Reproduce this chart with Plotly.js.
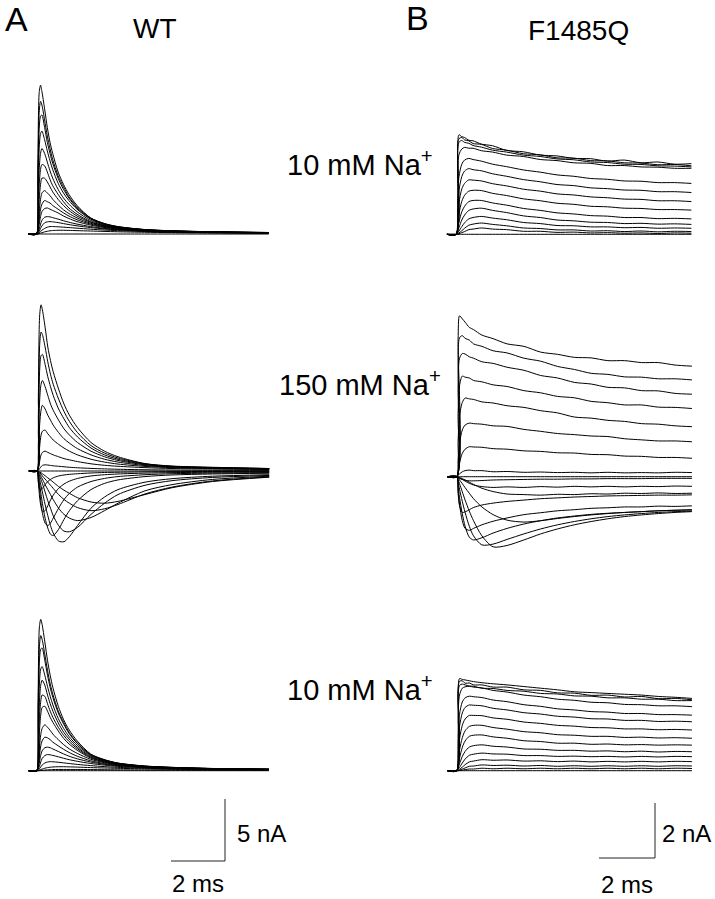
<!DOCTYPE html>
<html><head><meta charset="utf-8">
<script src="https://cdn.plot.ly/plotly-3.0.1.min.js"></script>
<style>html,body{margin:0;padding:0;background:#fff}#chart{width:715px;height:899px}</style>
</head><body><div id="chart"></div>
<script>
// ---------- time bases (ms after voltage step) ----------
const tA = [-0.3, 0, 0.05, 0.1, 0.15, 0.2, 0.3, 0.4, 0.5, 0.6, 0.8, 1.0, 1.2, 1.5, 2.0, 2.5, 3.0, 4.0, 5.0, 6.5, 8.6];
const tB = [-0.33, 0, 0.05, 0.1, 0.2, 0.3, 0.45, 0.6, 0.9, 1.3, 1.8, 2.4, 3.0, 3.6, 4.2, 4.8, 5.4, 6.0, 6.6, 7.2, 7.8, 8.4];

// ---------- WT, 10 mM Na+ (before), currents in nA ----------
const wt10Before = [
 [0,0,5.4,11.4,12.0,11.5,10.1,8.6,7.4,6.5,5.0,4.0,3.2,2.3,1.3,0.85,0.6,0.36,0.26,0.18,0.12],
 [0,0,4.3,9.8,10.7,10.4,9.2,7.9,6.9,6.0,4.7,3.8,3.0,2.2,1.3,0.85,0.6,0.36,0.26,0.18,0.12],
 [0,0,3.5,8.5,9.5,9.6,8.6,7.4,6.5,5.7,4.5,3.6,2.9,2.1,1.25,0.82,0.58,0.35,0.25,0.17,0.12],
 [0,0,2.6,6.9,8.1,8.3,7.6,6.7,5.9,5.2,4.1,3.3,2.7,2.0,1.2,0.8,0.56,0.34,0.24,0.17,0.11],
 [0,0,1.8,5.2,6.5,6.9,6.5,5.8,5.1,4.5,3.6,2.9,2.4,1.8,1.1,0.75,0.53,0.33,0.24,0.16,0.11],
 [0,0,1.2,3.9,5.2,5.6,5.5,5.0,4.4,3.9,3.2,2.6,2.1,1.6,1.0,0.7,0.5,0.32,0.23,0.16,0.11],
 [0,0,0.8,2.8,4.0,4.5,4.5,4.2,3.8,3.4,2.8,2.3,1.9,1.45,0.95,0.66,0.48,0.31,0.22,0.15,0.1],
 [0,0,0.5,1.8,2.8,3.3,3.5,3.3,3.1,2.8,2.35,1.95,1.65,1.3,0.87,0.62,0.46,0.3,0.21,0.15,0.1],
 [0,0,0.3,1.2,2.0,2.4,2.7,2.6,2.5,2.3,2.0,1.7,1.45,1.15,0.8,0.58,0.43,0.28,0.2,0.14,0.1],
 [0,0,0.2,0.8,1.4,1.8,2.05,2.1,2.0,1.9,1.7,1.45,1.25,1.0,0.72,0.53,0.4,0.27,0.19,0.14,0.09],
 [0,0,0.1,0.4,0.8,1.1,1.35,1.4,1.38,1.32,1.2,1.07,0.95,0.8,0.6,0.46,0.36,0.25,0.18,0.13,0.09],
 [0,0,0.05,0.2,0.45,0.65,0.9,0.98,1.0,0.98,0.92,0.84,0.76,0.66,0.52,0.41,0.33,0.23,0.17,0.12,0.08],
 [0,0,0,0.1,0.2,0.3,0.45,0.55,0.6,0.6,0.58,0.55,0.52,0.47,0.39,0.32,0.27,0.2,0.15,0.11,0.07],
 [0,0,0,0.03,0.07,0.1,0.17,0.22,0.26,0.28,0.3,0.3,0.29,0.27,0.24,0.21,0.18,0.14,0.11,0.08,0.06],
 [0,0,0,0,0,0,0,0,0,0,0,0,0,0,0,0,0,0,0,0,0]
];

// ---------- WT, 150 mM Na+ ----------
const wt150 = [
 [0,0,6.0,12.6,13.4,13.0,11.6,10.0,8.9,8.0,6.6,5.4,4.5,3.5,2.3,1.6,1.15,0.6,0.4,0.3,0.2],
 [0,0,4.5,10.2,11.2,11.0,10.0,8.8,7.8,7.0,5.8,4.8,4.0,3.1,2.05,1.45,1.05,0.58,0.38,0.28,0.2],
 [0,0,3.4,8.2,9.3,9.4,8.6,7.6,6.8,6.1,5.0,4.2,3.5,2.75,1.85,1.3,0.95,0.54,0.36,0.27,0.19],
 [0,0,2.2,5.8,7.0,7.3,6.8,6.1,5.4,4.9,4.1,3.4,2.9,2.3,1.6,1.15,0.85,0.5,0.34,0.25,0.18],
 [0,0,1.3,3.8,4.9,5.3,5.0,4.5,4.1,3.7,3.1,2.6,2.25,1.8,1.3,0.95,0.72,0.44,0.31,0.23,0.17],
 [0,0,0.6,2.0,2.9,3.2,3.3,3.0,2.75,2.5,2.15,1.85,1.6,1.3,0.95,0.72,0.56,0.37,0.27,0.2,0.15],
 [0,0,0.2,0.8,1.3,1.5,1.6,1.5,1.4,1.3,1.15,1.0,0.9,0.76,0.58,0.46,0.38,0.27,0.2,0.16,0.12],
 [0,0,0.05,0.2,0.35,0.45,0.5,0.48,0.45,0.42,0.38,0.34,0.3,0.26,0.21,0.17,0.14,0.1,0.08,0.06,0.05],
 [0,0,0,0,0,0,0,0,0,0,0,0,0,0,0,0,0,0,0,0,0],
 [0,0,-0.9,-1.45,-1.5,-1.4,-1.1,-0.85,-0.68,-0.55,-0.4,-0.32,-0.27,-0.22,-0.16,-0.12,-0.1,-0.07,-0.05,-0.04,-0.03],
 [0,0,-0.9,-2.2,-2.9,-3.25,-3.2,-2.8,-2.35,-1.95,-1.4,-1.05,-0.82,-0.6,-0.4,-0.3,-0.24,-0.17,-0.13,-0.1,-0.08],
 [0,0,-0.6,-1.6,-2.6,-3.4,-4.2,-4.4,-4.2,-3.8,-3.0,-2.3,-1.8,-1.3,-0.85,-0.6,-0.45,-0.3,-0.22,-0.17,-0.13],
 [0,0,-0.4,-1.1,-1.9,-2.6,-3.8,-4.6,-5.1,-5.2,-4.7,-3.9,-3.2,-2.4,-1.5,-1.0,-0.72,-0.45,-0.32,-0.24,-0.18],
 [0,0,-0.25,-0.7,-1.2,-1.7,-2.7,-3.6,-4.4,-5.0,-5.65,-5.7,-5.3,-4.4,-3.0,-2.1,-1.5,-0.9,-0.62,-0.42,-0.3],
 [0,0,-0.15,-0.4,-0.7,-1.0,-1.7,-2.4,-3.0,-3.6,-4.4,-4.85,-4.9,-4.55,-3.5,-2.6,-1.9,-1.15,-0.78,-0.52,-0.36],
 [0,0,-0.1,-0.25,-0.45,-0.65,-1.1,-1.5,-1.9,-2.3,-3.0,-3.5,-3.8,-4.0,-3.75,-3.2,-2.6,-1.6,-1.1,-0.68,-0.42],
 [0,0,-0.05,-0.15,-0.25,-0.4,-0.65,-0.9,-1.15,-1.4,-1.9,-2.3,-2.6,-2.95,-3.2,-3.05,-2.7,-1.85,-1.3,-0.8,-0.47],
 [0,0,-0.03,-0.08,-0.15,-0.22,-0.38,-0.55,-0.72,-0.9,-1.25,-1.55,-1.8,-2.15,-2.5,-2.6,-2.45,-1.9,-1.35,-0.85,-0.5]
];

// ---------- WT, 10 mM Na+ (after) ----------
const wt10After = [
 [0,0,5.5,11.6,12.2,11.8,10.4,8.9,7.7,6.7,5.2,4.1,3.3,2.4,1.35,0.9,0.62,0.38,0.27,0.18,0.12],
 [0,0,4.4,10.0,10.9,10.6,9.4,8.1,7.0,6.15,4.8,3.9,3.1,2.25,1.3,0.88,0.61,0.37,0.27,0.18,0.12],
 [0,0,3.6,8.8,9.8,9.9,8.9,7.7,6.7,5.9,4.65,3.75,3.0,2.2,1.28,0.86,0.6,0.36,0.26,0.17,0.12],
 [0,0,2.6,7.0,8.2,8.4,7.7,6.8,6.0,5.3,4.2,3.4,2.75,2.05,1.22,0.82,0.58,0.35,0.25,0.17,0.11],
 [0,0,1.9,5.5,6.9,7.3,6.9,6.1,5.4,4.8,3.85,3.1,2.55,1.9,1.15,0.78,0.55,0.34,0.24,0.16,0.11],
 [0,0,1.3,4.2,5.6,6.1,6.0,5.4,4.8,4.3,3.5,2.85,2.35,1.78,1.08,0.74,0.53,0.33,0.24,0.16,0.11],
 [0,0,0.9,3.1,4.5,5.1,5.2,4.8,4.3,3.9,3.2,2.6,2.15,1.65,1.02,0.7,0.5,0.32,0.23,0.15,0.1],
 [0,0,0.5,1.9,2.9,3.4,3.7,3.5,3.25,2.95,2.5,2.1,1.77,1.4,0.92,0.65,0.47,0.3,0.21,0.15,0.1],
 [0,0,0.3,1.2,2.0,2.4,2.7,2.65,2.5,2.3,2.0,1.72,1.47,1.17,0.8,0.58,0.43,0.28,0.2,0.14,0.1],
 [0,0,0.15,0.7,1.25,1.6,1.85,1.9,1.85,1.75,1.55,1.35,1.17,0.96,0.7,0.52,0.4,0.27,0.19,0.13,0.09],
 [0,0,0.1,0.35,0.7,0.98,1.22,1.3,1.28,1.23,1.12,1.0,0.89,0.76,0.58,0.45,0.35,0.24,0.18,0.13,0.09],
 [0,0,0.03,0.15,0.3,0.45,0.62,0.7,0.73,0.72,0.68,0.63,0.58,0.51,0.41,0.33,0.27,0.2,0.15,0.11,0.07],
 [0,0,0,0.04,0.09,0.13,0.2,0.25,0.28,0.3,0.32,0.32,0.31,0.29,0.25,0.22,0.19,0.15,0.11,0.08,0.06],
 [0,0,0,0.01,0.02,0.03,0.05,0.07,0.08,0.09,0.1,0.1,0.1,0.1,0.09,0.08,0.07,0.06,0.05,0.04,0.03],
 [0,0,0,0,0,0,0,0,0,0,0,0,0,0,0,0,0,0,0,0,0]
];

// ---------- F1485Q, 10 mM Na+ (before) ----------
const mut10Before = [
 [0,0,3.3,3.62,3.55,3.52,3.42,3.4,3.28,3.22,3.05,3.0,2.88,2.85,2.76,2.75,2.66,2.7,2.6,2.63,2.55,2.57],
 [0,0,3.1,3.48,3.52,3.43,3.4,3.3,3.27,3.12,3.06,2.93,2.89,2.78,2.77,2.68,2.67,2.6,2.59,2.53,2.54,2.49],
 [0,0,2.8,3.35,3.41,3.34,3.31,3.23,3.17,3.06,2.99,2.88,2.83,2.74,2.71,2.63,2.61,2.55,2.54,2.49,2.48,2.45],
 [0,0,2.2,2.9,3.1,3.16,3.13,3.13,3.04,2.99,2.88,2.83,2.72,2.68,2.6,2.58,2.5,2.5,2.45,2.44,2.4,2.4],
 [0,0,1.3,2.1,2.55,2.7,2.76,2.72,2.66,2.55,2.46,2.34,2.26,2.16,2.11,2.03,2.0,1.94,1.93,1.88,1.88,1.85],
 [0,0,0.9,1.6,2.1,2.3,2.39,2.35,2.31,2.2,2.11,1.99,1.91,1.81,1.77,1.69,1.66,1.61,1.6,1.55,1.55,1.52],
 [0,0,0.6,1.15,1.65,1.85,1.98,1.97,1.94,1.84,1.76,1.64,1.57,1.47,1.43,1.36,1.33,1.28,1.27,1.22,1.22,1.19],
 [0,0,0.35,0.75,1.2,1.42,1.57,1.6,1.59,1.49,1.41,1.29,1.22,1.13,1.09,1.02,1.0,0.95,0.94,0.9,0.9,0.88],
 [0,0,0.2,0.45,0.82,1.02,1.19,1.23,1.23,1.14,1.06,0.94,0.87,0.78,0.74,0.68,0.66,0.61,0.61,0.57,0.58,0.56],
 [0,0,0.1,0.25,0.52,0.7,0.87,0.92,0.95,0.87,0.79,0.67,0.61,0.52,0.49,0.44,0.43,0.39,0.4,0.37,0.38,0.36],
 [0,0,0.05,0.12,0.28,0.42,0.56,0.61,0.65,0.59,0.53,0.43,0.39,0.32,0.31,0.27,0.27,0.24,0.25,0.22,0.23,0.22],
 [0,0,0.02,0.05,0.13,0.22,0.33,0.37,0.41,0.36,0.31,0.23,0.21,0.16,0.16,0.12,0.13,0.1,0.12,0.09,0.11,0.1],
 [0,0,0,0.02,0.06,0.1,0.17,0.19,0.23,0.19,0.17,0.11,0.11,0.07,0.08,0.05,0.06,0.04,0.05,0.03,0.05,0.04],
 [0,0,0,0,0,0,0,0,0,0,0,0,0,0,0,0,0,0,0,0,0,0]
];

// ---------- F1485Q, 150 mM Na+ ----------
const mut150 = [
 [0,0,5.0,5.85,5.74,5.62,5.43,5.35,5.15,5.02,4.83,4.74,4.53,4.45,4.34,4.32,4.22,4.22,4.15,4.15,4.06,4.02],
 [0,0,4.2,5.05,5.13,5.03,4.97,4.83,4.74,4.58,4.5,4.31,4.2,4.01,3.9,3.76,3.72,3.63,3.62,3.56,3.56,3.52],
 [0,0,3.3,4.3,4.48,4.46,4.36,4.31,4.18,4.12,3.98,3.87,3.68,3.59,3.43,3.37,3.25,3.23,3.13,3.12,3.03,3.0],
 [0,0,2.3,3.3,3.66,3.62,3.59,3.5,3.45,3.34,3.28,3.13,3.05,2.92,2.87,2.74,2.69,2.61,2.61,2.53,2.52,2.48],
 [0,0,1.3,2.2,2.7,2.86,2.83,2.81,2.72,2.68,2.58,2.52,2.4,2.32,2.17,2.13,2.05,2.01,1.93,1.91,1.85,1.82],
 [0,0,0.6,1.2,1.7,1.88,1.95,1.93,1.91,1.85,1.83,1.72,1.65,1.57,1.53,1.48,1.46,1.38,1.34,1.3,1.3,1.27],
 [0,0,0.2,0.5,0.85,1.0,1.09,1.08,1.07,1.02,1.0,0.94,0.92,0.87,0.86,0.81,0.8,0.75,0.74,0.7,0.7,0.67],
 [0,0,0.05,0.1,0.18,0.22,0.24,0.22,0.22,0.18,0.19,0.16,0.17,0.15,0.16,0.14,0.16,0.14,0.15,0.14,0.16,0.15],
 [0,0,0,0,0,0,0,0,0,0,0,0,0,0,0,0,0,0,0,0,0,0],
 [0,0,-0.03,-0.06,-0.1,-0.13,-0.15,-0.15,-0.14,-0.12,-0.11,-0.1,-0.09,-0.09,-0.08,-0.08,-0.07,-0.07,-0.07,-0.06,-0.06,-0.06],
 [0,0,-0.02,-0.05,-0.1,-0.16,-0.24,-0.3,-0.36,-0.39,-0.37,-0.39,-0.36,-0.38,-0.35,-0.37,-0.35,-0.37,-0.35,-0.36,-0.34,-0.35],
 [0,0,-0.01,-0.03,-0.07,-0.12,-0.2,-0.28,-0.42,-0.54,-0.63,-0.65,-0.67,-0.64,-0.65,-0.62,-0.63,-0.6,-0.61,-0.59,-0.61,-0.6],
 [0,0,-0.6,-1.05,-1.3,-1.28,-1.2,-1.12,-1.03,-0.96,-0.9,-0.85,-0.8,-0.77,-0.74,-0.72,-0.7,-0.69,-0.68,-0.67,-0.67,-0.66],
 [0,0,-0.5,-1.0,-1.6,-1.88,-1.95,-1.88,-1.75,-1.62,-1.5,-1.38,-1.31,-1.24,-1.2,-1.15,-1.13,-1.1,-1.1,-1.07,-1.08,-1.06],
 [0,0,-0.35,-0.75,-1.35,-1.8,-2.2,-2.3,-2.22,-2.05,-1.88,-1.72,-1.6,-1.5,-1.43,-1.37,-1.33,-1.3,-1.27,-1.24,-1.22,-1.2],
 [0,0,-0.2,-0.45,-0.9,-1.3,-1.8,-2.15,-2.48,-2.45,-2.28,-2.08,-1.9,-1.75,-1.63,-1.53,-1.45,-1.39,-1.34,-1.3,-1.27,-1.25],
 [0,0,-0.1,-0.25,-0.55,-0.85,-1.25,-1.6,-2.15,-2.55,-2.5,-2.3,-2.08,-1.9,-1.75,-1.63,-1.53,-1.45,-1.39,-1.34,-1.3,-1.27],
 [0,0,-0.05,-0.12,-0.25,-0.4,-0.6,-0.8,-1.1,-1.38,-1.58,-1.65,-1.6,-1.52,-1.45,-1.39,-1.34,-1.3,-1.27,-1.24,-1.22,-1.21]
];

// ---------- F1485Q, 10 mM Na+ (after) ----------
const mut10After = [
 [0,0,3.0,3.35,3.32,3.3,3.27,3.24,3.2,3.16,3.12,3.06,3.0,2.94,2.87,2.84,2.81,2.78,2.75,2.7,2.67,2.63],
 [0,0,2.9,3.25,3.27,3.18,3.19,3.12,3.12,3.04,3.04,2.94,2.92,2.83,2.82,2.74,2.75,2.68,2.7,2.62,2.63,2.58],
 [0,0,2.7,3.1,3.15,3.12,3.08,3.07,3.0,2.99,2.92,2.89,2.81,2.79,2.72,2.71,2.65,2.65,2.6,2.6,2.55,2.55],
 [0,0,2.0,2.75,3.0,3.05,3.07,3.04,3.01,2.92,2.86,2.75,2.69,2.6,2.56,2.49,2.47,2.41,2.4,2.36,2.36,2.33],
 [0,0,1.3,2.05,2.5,2.65,2.71,2.69,2.66,2.57,2.51,2.4,2.34,2.25,2.21,2.15,2.13,2.08,2.08,2.04,2.04,2.02],
 [0,0,0.9,1.6,2.1,2.3,2.39,2.38,2.36,2.27,2.21,2.11,2.06,1.98,1.95,1.89,1.88,1.83,1.83,1.79,1.8,1.78],
 [0,0,0.6,1.15,1.65,1.88,2.01,2.01,2.0,1.92,1.87,1.77,1.72,1.65,1.62,1.57,1.56,1.52,1.52,1.49,1.5,1.48],
 [0,0,0.35,0.75,1.2,1.45,1.61,1.65,1.65,1.57,1.51,1.42,1.38,1.31,1.29,1.25,1.25,1.21,1.22,1.19,1.2,1.18],
 [0,0,0.2,0.45,0.85,1.08,1.25,1.29,1.3,1.23,1.18,1.09,1.06,1.0,1.0,0.96,0.97,0.94,0.95,0.93,0.94,0.93],
 [0,0,0.1,0.25,0.52,0.7,0.86,0.91,0.94,0.89,0.86,0.79,0.78,0.74,0.74,0.71,0.72,0.69,0.71,0.68,0.7,0.69],
 [0,0,0.05,0.12,0.28,0.42,0.56,0.6,0.64,0.61,0.6,0.55,0.55,0.52,0.53,0.51,0.52,0.5,0.52,0.5,0.52,0.51],
 [0,0,0.02,0.05,0.13,0.22,0.32,0.35,0.4,0.38,0.39,0.35,0.36,0.33,0.35,0.32,0.34,0.32,0.34,0.32,0.34,0.33],
 [0,0,0,0.02,0.06,0.1,0.16,0.17,0.21,0.19,0.2,0.17,0.19,0.16,0.18,0.16,0.18,0.16,0.18,0.16,0.18,0.17],
 [0,0,0,0.01,0.02,0.04,0.06,0.06,0.09,0.07,0.09,0.07,0.09,0.07,0.09,0.07,0.09,0.07,0.09,0.07,0.09,0.08],
 [0,0,0,0,0,0,0,0,0,0,0,0,0,0,0,0,0,0,0,0,0,0]
];

// ---------- calibration bars [ms, nA] and text ----------
const scaleBarA = [2, 5];
const scaleBarB = [2, 2];
const panelLetters = ['A', 'B'];
const genotypes = ['WT', 'F1485Q'];
const conditions = ['10 mM Na<sup>+</sup>', '150 mM Na<sup>+</sup>', '10 mM Na<sup>+</sup>'];
const scaleTextA = ['5 nA', '2 ms'];
const scaleTextB = ['2 nA', '2 ms'];

// ---------- layout geometry ----------
const W = 715, H = 899;
const FONT = 'Liberation Sans, Arial, Helvetica, sans-serif';
const panels = [
  {rows: wt10Before, t: tA, px0: 36.5, py0: 234.0, sx: 27, sy: 12.4},
  {rows: wt150,      t: tA, px0: 37.0, py0: 471.0, sx: 27, sy: 12.4},
  {rows: wt10After,  t: tA, px0: 36.7, py0: 770.7, sx: 27, sy: 12.4},
  {rows: mut10Before,t: tB, px0: 456.2, py0: 234.3, sx: 28, sy: 27.5},
  {rows: mut150,     t: tB, px0: 456.7, py0: 476.7, sx: 28, sy: 27.5},
  {rows: mut10After, t: tB, px0: 456.7, py0: 770.7, sx: 28, sy: 27.5},
  {rows: [[0, 0, scaleBarA[1]]], t: [0, scaleBarA[0], scaleBarA[0]], px0: 171, py0: 861, sx: 27, sy: 12.4, bar: true},
  {rows: [[0, 0, scaleBarB[1]]], t: [0, scaleBarB[0], scaleBarB[0]], px0: 599, py0: 858, sx: 28, sy: 27.5, bar: true}
];

const traces = [];
const layout = {
  width: W, height: H,
  margin: {l: 0, r: 0, t: 0, b: 0, pad: 0},
  showlegend: false,
  paper_bgcolor: '#ffffff',
  plot_bgcolor: 'rgba(0,0,0,0)',
  hovermode: false,
  annotations: []
};

panels.forEach((p, i) => {
  const n = i + 1;
  const xa = n === 1 ? 'x' : 'x' + n;
  const ya = n === 1 ? 'y' : 'y' + n;
  layout[n === 1 ? 'xaxis' : 'xaxis' + n] = {
    domain: [0, 1], range: [-p.px0 / p.sx, (W - p.px0) / p.sx],
    visible: false, fixedrange: true, anchor: ya, showgrid: false, zeroline: false
  };
  layout[n === 1 ? 'yaxis' : 'yaxis' + n] = {
    domain: [0, 1], range: [-(H - p.py0) / p.sy, p.py0 / p.sy],
    visible: false, fixedrange: true, anchor: xa, showgrid: false, zeroline: false
  };
  p.rows.forEach(vals => {
    traces.push({
      x: p.t, y: vals, xaxis: xa, yaxis: ya, type: 'scatter', mode: 'lines',
      line: p.bar ? {color: '#222', width: 1, shape: 'linear'}
                  : {color: '#000', width: 1, shape: 'spline', smoothing: 0.8},
      hoverinfo: 'skip'
    });
  });
});

function label(text, px, py, size, xanchor) {
  return {xref: 'paper', yref: 'paper', x: px / W, y: 1 - py / H, text: text,
          showarrow: false, xanchor: xanchor, yanchor: 'middle',
          font: {family: FONT, size: size, color: '#000'}};
}
const A = layout.annotations;
A.push(label(panelLetters[0], 3, 19, 34, 'left'));
A.push(label(panelLetters[1], 404, 18, 34, 'left'));
A.push(label(genotypes[0], 155, 29, 28, 'center'));
A.push(label(genotypes[1], 578, 30, 28, 'center'));
A.push(label(conditions[0], 285, 163, 29, 'left'));
A.push(label(conditions[1], 277, 383, 29, 'left'));
A.push(label(conditions[2], 285, 688, 29, 'left'));
A.push(label(scaleTextA[0], 235, 833, 24, 'left'));
A.push(label(scaleTextA[1], 170, 883, 24, 'left'));
A.push(label(scaleTextB[0], 660, 833, 24, 'left'));
A.push(label(scaleTextB[1], 599, 884, 24, 'left'));

Plotly.newPlot('chart', traces, layout, {staticPlot: true, displayModeBar: false});
</script>
</body></html>
